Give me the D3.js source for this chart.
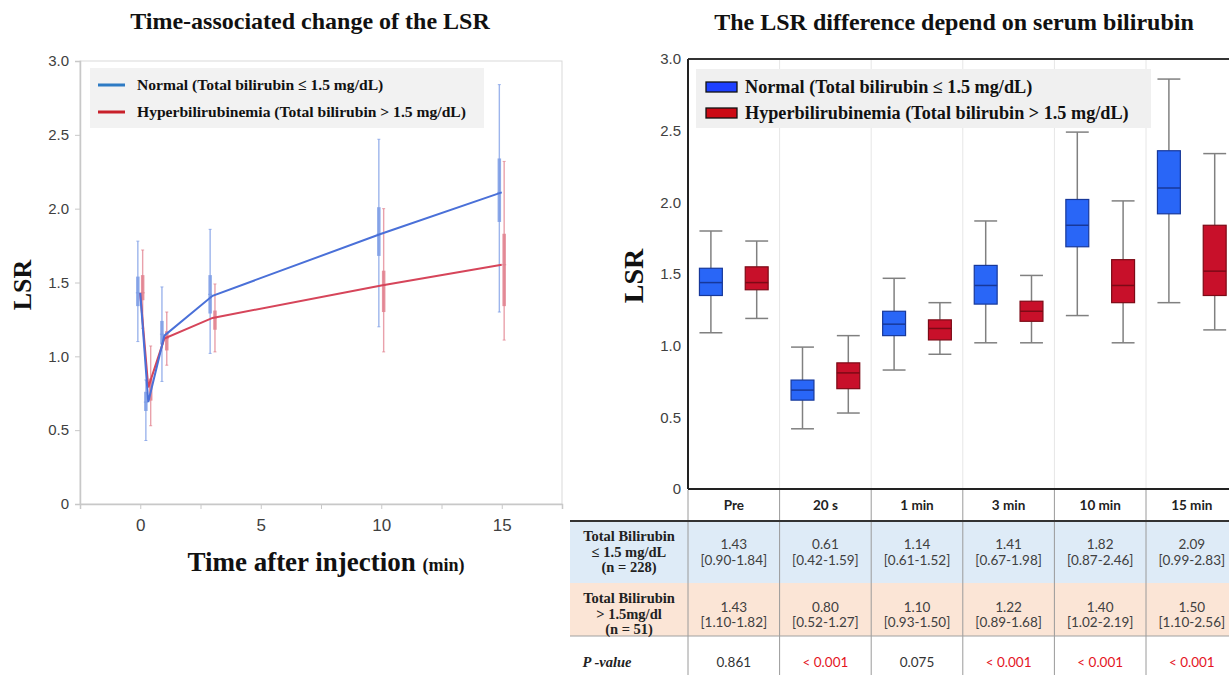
<!DOCTYPE html>
<html>
<head>
<meta charset="utf-8">
<script src="https://cdn.jsdelivr.net/npm/d3@7"></script>
<style>
  html, body { margin: 0; padding: 0; background: #fff; }
  svg { display: block; }
</style>
</head>
<body>
<svg id="chart" width="1229" height="675"></svg>
<script>
// ---------------- DATA ----------------
// Left chart: time points (min) and series
const timePoints = [0, 0.333, 1, 3, 10, 15];
const normalMean = [1.43, 0.69, 1.14, 1.41, 1.83, 2.11];
const hyperMean  = [1.43, 0.79, 1.12, 1.26, 1.48, 1.62];
// error bars: [low, q1, median, q3, high]
const normalBars = [
  [1.10, 1.34, 1.43, 1.54, 1.78],
  [0.43, 0.63, 0.69, 0.76, 0.84],
  [0.83, 1.08, 1.15, 1.24, 1.47],
  [1.02, 1.29, 1.42, 1.55, 1.86],
  [1.20, 1.68, 1.83, 2.01, 2.47],
  [1.30, 1.91, 2.11, 2.34, 2.84]
];
const hyperBars = [
  [1.19, 1.38, 1.43, 1.55, 1.72],
  [0.53, 0.70, 0.80, 0.85, 1.07],
  [0.94, 1.04, 1.12, 1.17, 1.30],
  [1.03, 1.18, 1.26, 1.31, 1.49],
  [1.03, 1.30, 1.48, 1.58, 2.00],
  [1.11, 1.34, 1.62, 1.83, 2.32]
];
const leftXTicks = [0, 5, 10, 15];
const leftXMinorTicks = [-2.5, 0, 2.5, 5, 7.5, 10, 12.5, 15, 17.5];
const yTicks = [0, 0.5, 1.0, 1.5, 2.0, 2.5, 3.0];

// Right chart: box plots [min, q1, median, q3, max]
const categories = ["Pre", "20 s", "1 min", "3 min", "10 min", "15 min"];
const normalBoxes = [
  [1.09, 1.35, 1.44, 1.54, 1.80],
  [0.42, 0.62, 0.69, 0.76, 0.99],
  [0.83, 1.07, 1.15, 1.24, 1.47],
  [1.02, 1.29, 1.42, 1.56, 1.87],
  [1.21, 1.69, 1.84, 2.02, 2.49],
  [1.30, 1.92, 2.10, 2.36, 2.86]
];
const hyperBoxes = [
  [1.19, 1.39, 1.44, 1.55, 1.73],
  [0.53, 0.70, 0.81, 0.88, 1.07],
  [0.94, 1.04, 1.12, 1.18, 1.30],
  [1.02, 1.17, 1.24, 1.31, 1.49],
  [1.02, 1.30, 1.42, 1.60, 2.01],
  [1.11, 1.35, 1.52, 1.84, 2.34]
];

// Table
const rowLabelsNormal = ["Total Bilirubin", "\u2264 1.5 mg/dL", "(n = 228)"];
const rowLabelsHyper = ["Total Bilirubin", "> 1.5mg/dl", "(n = 51)"];
const normalMedian = ["1.43", "0.61", "1.14", "1.41", "1.82", "2.09"];
const normalRange  = ["[0.90-1.84]", "[0.42-1.59]", "[0.61-1.52]", "[0.67-1.98]", "[0.87-2.46]", "[0.99-2.83]"];
const hyperMedian  = ["1.43", "0.80", "1.10", "1.22", "1.40", "1.50"];
const hyperRange   = ["[1.10-1.82]", "[0.52-1.27]", "[0.93-1.50]", "[0.89-1.68]", "[1.02-2.19]", "[1.10-2.56]"];
const pValues      = ["0.861", "< 0.001", "0.075", "< 0.001", "< 0.001", "< 0.001"];

const legendLabels = ["Normal (Total bilirubin \u2264 1.5 mg/dL)", "Hyperbilirubinemia (Total bilirubin > 1.5 mg/dL)"];

// ---------------- DRAW ----------------
const svg = d3.select("#chart");
const SERIF = "'Liberation Serif', 'Times New Roman', serif";
const SANS = "'Liberation Sans', Arial, sans-serif";
const CAL = "Lato, 'Open Sans', sans-serif";
const fmtY = d => d === 0 ? "0" : d3.format(".1f")(d);

svg.append("rect").attr("width", 1229).attr("height", 675).attr("fill", "#fff");

// ===== LEFT CHART =====
const L = svg.append("g");
const lx = d3.scaleLinear().domain([-2.5, 17.5]).range([80, 562]);
const ly = d3.scaleLinear().domain([0, 3]).range([504, 61]);

L.append("text").attr("x", 310).attr("y", 29).attr("text-anchor", "middle")
  .attr("font-family", SERIF).attr("font-weight", "bold").attr("font-size", 24)
  .attr("fill", "#111").text("Time-associated change of the LSR");

// frame
L.append("rect").attr("x", lx(-2.5)).attr("y", ly(3)).attr("width", lx(17.5) - lx(-2.5))
  .attr("height", ly(0) - ly(3)).attr("fill", "none").attr("stroke", "#d9d9d9").attr("stroke-width", 1);

// y axis
const lyAxis = L.append("g").attr("transform", `translate(${lx(-2.5)},0)`)
  .call(d3.axisLeft(ly).tickValues(yTicks).tickFormat(fmtY).tickSize(5).tickPadding(6));
lyAxis.select(".domain").attr("stroke", "#c8c8c8").attr("stroke-width", 1.5);
lyAxis.selectAll(".tick line").attr("stroke", "#c8c8c8");
lyAxis.selectAll(".tick text").attr("font-family", SANS).attr("font-size", 15).attr("fill", "#404040");

// x axis
const lxAxis = L.append("g").attr("transform", `translate(0,${ly(0)})`)
  .call(d3.axisBottom(lx).tickValues(leftXMinorTicks).tickFormat(d => leftXTicks.includes(d) ? d : "").tickSize(5).tickPadding(10));
lxAxis.select(".domain").attr("stroke", "#c8c8c8").attr("stroke-width", 1.5);
lxAxis.selectAll(".tick line").attr("stroke", "#c8c8c8");
lxAxis.selectAll(".tick text").attr("font-family", SANS).attr("font-size", 17).attr("fill", "#404040");

// axis titles
L.append("text").attr("transform", `translate(31,285) rotate(-90)`).attr("text-anchor", "middle")
  .attr("font-family", SERIF).attr("font-weight", "bold").attr("font-size", 26).attr("fill", "#111").text("LSR");
const xt = L.append("text").attr("x", 326).attr("y", 571).attr("text-anchor", "middle")
  .attr("font-family", SERIF).attr("font-weight", "bold").attr("fill", "#111");
xt.append("tspan").attr("font-size", 27).text("Time after injection ");
xt.append("tspan").attr("font-size", 18).text("(min)");

// legend
L.append("rect").attr("x", 90).attr("y", 68).attr("width", 394).attr("height", 60).attr("fill", "#f2f2f2");
const lLegColors = ["#2e7bc4", "#c8202a"];
legendLabels.forEach((t, i) => {
  const yy = 85 + i * 27;
  L.append("line").attr("x1", 98).attr("x2", 125).attr("y1", yy).attr("y2", yy)
    .attr("stroke", lLegColors[i]).attr("stroke-width", 3);
  L.append("text").attr("x", 137).attr("y", yy + 5).attr("font-family", SERIF).attr("font-weight", "bold")
    .attr("font-size", 15.6).attr("fill", "#111").text(t);
});

// error bars
function drawBars(bars, offset, color) {
  const g = L.append("g");
  bars.forEach((b, i) => {
    const x = lx(timePoints[i] + offset);
    g.append("line").attr("x1", x).attr("x2", x).attr("y1", ly(b[0])).attr("y2", ly(b[4]))
      .attr("stroke", color).attr("stroke-width", 1.4).attr("opacity", 0.75);
    [b[0], b[4]].forEach(v => g.append("line").attr("x1", x - 1.5).attr("x2", x + 1.5)
      .attr("y1", ly(v)).attr("y2", ly(v)).attr("stroke", color).attr("stroke-width", 1).attr("opacity", 0.75));
    g.append("line").attr("x1", x).attr("x2", x).attr("y1", ly(b[1])).attr("y2", ly(b[3]))
      .attr("stroke", color).attr("stroke-width", 3.5).attr("opacity", 0.85);
    g.append("line").attr("x1", x - 2).attr("x2", x + 2).attr("y1", ly(b[2])).attr("y2", ly(b[2]))
      .attr("stroke", color).attr("stroke-width", 1).attr("opacity", 0.9);
  });
}
drawBars(normalBars, -0.1, "#7d9de6");
drawBars(hyperBars, 0.1, "#e2828f");

const line = d3.line().x((d, i) => lx(timePoints[i])).y(d => ly(d));
L.append("path").datum(hyperMean).attr("d", line).attr("fill", "none").attr("stroke", "#d6455a").attr("stroke-width", 2);
L.append("path").datum(normalMean).attr("d", line).attr("fill", "none").attr("stroke", "#4a70d8").attr("stroke-width", 2);

// ===== RIGHT CHART =====
const R = svg.append("g");
const bandW = 91.6;
const rx = d3.scaleBand().domain(categories).range([688, 688 + bandW * categories.length]).padding(0);
const ry = d3.scaleLinear().domain([0, 3]).range([489, 59]);
const rRight = 1229;

R.append("text").attr("x", 954).attr("y", 30).attr("text-anchor", "middle")
  .attr("font-family", SERIF).attr("font-weight", "bold").attr("font-size", 24)
  .attr("fill", "#111").text("The LSR difference depend on serum bilirubin");

// vertical gridlines
categories.slice(1).forEach(c => {
  R.append("line").attr("x1", rx(c)).attr("x2", rx(c)).attr("y1", ry(3)).attr("y2", ry(0))
    .attr("stroke", "#e6e6e6").attr("stroke-width", 1);
});

// y axis labels
const ryAxis = R.append("g").attr("transform", `translate(688,0)`)
  .call(d3.axisLeft(ry).tickValues(yTicks).tickFormat(fmtY).tickSize(0).tickPadding(7));
ryAxis.select(".domain").remove();
ryAxis.selectAll(".tick text").attr("font-family", SANS).attr("font-size", 15).attr("fill", "#404040");

R.append("text").attr("transform", `translate(643,276) rotate(-90)`).attr("text-anchor", "middle")
  .attr("font-family", SERIF).attr("font-weight", "bold").attr("font-size", 28).attr("fill", "#111").text("LSR");

// legend
R.append("rect").attr("x", 696).attr("y", 69).attr("width", 455).attr("height", 59).attr("fill", "#f0f0f0");
const rLegFill = ["#1e40ff", "#cc0a14"];
legendLabels.forEach((t, i) => {
  const yy = 82 + i * 26;
  R.append("rect").attr("x", 706).attr("y", yy).attr("width", 31).attr("height", 10)
    .attr("fill", rLegFill[i]).attr("stroke", "#111").attr("stroke-width", 1.3);
  R.append("text").attr("x", 745).attr("y", yy + 11).attr("font-family", SERIF).attr("font-weight", "bold")
    .attr("font-size", 18.2).attr("fill", "#111").text(t);
});

// boxes
function drawBoxes(boxes, frac, fill, stroke) {
  const bw = rx.bandwidth() * 0.25;
  boxes.forEach((b, i) => {
    const cx = rx(categories[i]) + rx.bandwidth() * frac;
    const g = R.append("g");
    g.append("line").attr("x1", cx).attr("x2", cx).attr("y1", ry(b[4])).attr("y2", ry(b[3]))
      .attr("stroke", "#808080").attr("stroke-width", 1.5);
    g.append("line").attr("x1", cx).attr("x2", cx).attr("y1", ry(b[1])).attr("y2", ry(b[0]))
      .attr("stroke", "#808080").attr("stroke-width", 1.5);
    [b[0], b[4]].forEach(v => g.append("line").attr("x1", cx - bw / 2).attr("x2", cx + bw / 2)
      .attr("y1", ry(v)).attr("y2", ry(v)).attr("stroke", "#808080").attr("stroke-width", 1.5));
    g.append("rect").attr("x", cx - bw / 2).attr("y", ry(b[3])).attr("width", bw)
      .attr("height", ry(b[1]) - ry(b[3])).attr("fill", fill).attr("stroke", stroke).attr("stroke-width", 1.2);
    g.append("line").attr("x1", cx - bw / 2).attr("x2", cx + bw / 2).attr("y1", ry(b[2])).attr("y2", ry(b[2]))
      .attr("stroke", stroke).attr("stroke-width", 1.5);
  });
}
drawBoxes(normalBoxes, 0.25, "#2966f7", "#17389a");
drawBoxes(hyperBoxes, 0.75, "#c8102a", "#7c0a16");

// plot frame
R.append("line").attr("x1", 688).attr("x2", rRight).attr("y1", ry(3)).attr("y2", ry(3)).attr("stroke", "#333").attr("stroke-width", 2);
R.append("line").attr("x1", 688).attr("x2", rRight).attr("y1", ry(0)).attr("y2", ry(0)).attr("stroke", "#222").attr("stroke-width", 2);
R.append("line").attr("x1", 688).attr("x2", 688).attr("y1", ry(3)).attr("y2", ry(0)).attr("stroke", "#222").attr("stroke-width", 2);

// ===== TABLE =====
const T = svg.append("g");
const tLeft = 570;
const rowHead = [490, 521], row1 = [521, 583], row2 = [583, 636], row3 = [636, 675];
T.append("rect").attr("x", tLeft).attr("y", row1[0]).attr("width", rRight - tLeft).attr("height", row1[1] - row1[0]).attr("fill", "#deebf7");
T.append("rect").attr("x", tLeft).attr("y", row2[0]).attr("width", rRight - tLeft).attr("height", row2[1] - row2[0]).attr("fill", "#fbe5d6");

// vertical lines
categories.forEach(c => {
  T.append("line").attr("x1", rx(c)).attr("x2", rx(c)).attr("y1", 490).attr("y2", 675)
    .attr("stroke", "#9a9a9a").attr("stroke-width", 1);
});
T.append("line").attr("x1", tLeft).attr("x2", rRight).attr("y1", row1[0]).attr("y2", row1[0]).attr("stroke", "#333").attr("stroke-width", 2);
T.append("line").attr("x1", tLeft).attr("x2", rRight).attr("y1", row3[0]).attr("y2", row3[0]).attr("stroke", "#a0a0a0").attr("stroke-width", 1);

// header
categories.forEach(c => {
  T.append("text").attr("x", rx(c) + rx.bandwidth() / 2).attr("y", 510).attr("text-anchor", "middle")
    .attr("font-family", CAL).attr("font-weight", "bold").attr("font-size", 13.5).attr("fill", "#222").text(c);
});

// row labels
function rowLabel(lines, y0) {
  lines.forEach((t, i) => {
    T.append("text").attr("x", 629).attr("y", y0 + i * 15.5).attr("text-anchor", "middle")
      .attr("font-family", SERIF).attr("font-weight", "bold").attr("font-size", 14.5).attr("fill", "#222").text(t);
  });
}
rowLabel(rowLabelsNormal, 541);
rowLabel(rowLabelsHyper, 603);
T.append("text").attr("x", 607).attr("y", 667).attr("text-anchor", "middle")
  .attr("font-family", SERIF).attr("font-weight", "bold").attr("font-style", "italic").attr("font-size", 14.5)
  .attr("fill", "#222").text("P -value");

function cellText(arr, y, colorFn) {
  arr.forEach((t, i) => {
    T.append("text").attr("x", rx(categories[i]) + rx.bandwidth() / 2).attr("y", y).attr("text-anchor", "middle")
      .attr("font-family", CAL).attr("font-size", 13.5).attr("fill", colorFn ? colorFn(t) : "#404040").text(t);
  });
}
cellText(normalMedian, 549);
cellText(normalRange, 565);
cellText(hyperMedian, 612);
cellText(hyperRange, 627);
cellText(pValues, 667, t => t.startsWith("<") ? "#e4141e" : "#333");
</script>
</body>
</html>
